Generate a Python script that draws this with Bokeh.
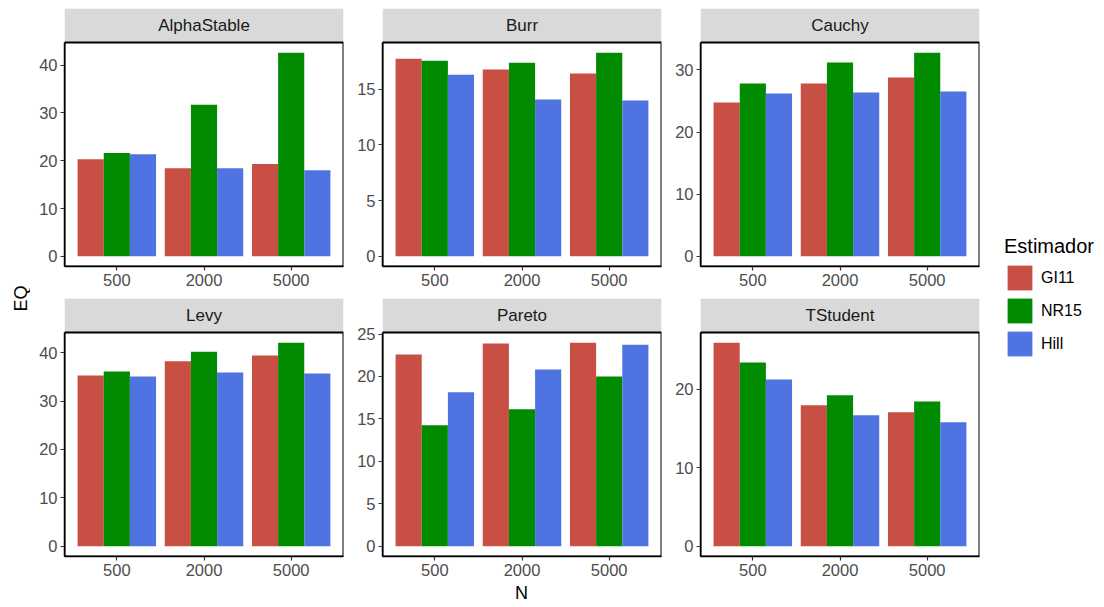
from bokeh.plotting import figure
from bokeh.models import (ColumnDataSource, FactorRange, Range1d, SingleIntervalTicker,
                          Label, Legend, LegendItem, BoxAnnotation)
from bokeh.transform import dodge
from bokeh.layouts import row, column
from bokeh.embed import file_html
from bokeh.resources import INLINE

# ---------------- data ----------------
dists = ["AlphaStable", "Burr", "Cauchy", "Levy", "Pareto", "TStudent"]
sizes = ["500", "2000", "5000"]
estimators = ["GI11", "NR15", "Hill"]

gi11 = [[20.3, 18.4, 19.3], [17.74, 16.76, 16.4], [24.77, 27.8, 28.77],
        [35.3, 38.2, 39.4], [22.58, 23.87, 23.98], [25.97, 17.98, 17.09]]
nr15 = [[21.6, 31.7, 42.6], [17.56, 17.38, 18.28], [27.8, 31.17, 32.77],
        [36.1, 40.2, 42.06], [14.26, 16.14, 20.0], [23.43, 19.25, 18.48]]
hill = [[21.35, 18.4, 18.0], [16.3, 14.08, 13.99], [26.2, 26.37, 26.53],
        [35.1, 35.9, 35.7], [18.13, 20.83, 23.75], [21.27, 16.71, 15.82]]

tick_steps = [10, 5, 10, 10, 5, 10]
colors = ["#C74F43", "#008B00", "#5073E2"]

# ---------------- style ----------------
FONT = "Liberation Sans"
TICK_FS = "16.5px"
STRIP_FS = "17px"
FRAME_W = 279
PANEL_H = 224
STRIP_H = 34
lefts = [34, 34, 35]
rights = [5, 4, 5]
offsets = [-0.3, 0.0, 0.3]


def make_panel(i, top_gap, bottom):
    col = i % 3
    ymax = max(max(gi11[i]), max(nr15[i]), max(hill[i]))
    y0, y1 = -0.05 * ymax, 1.05 * ymax
    per_px = (y1 - y0) / PANEL_H
    y_top = y1 + STRIP_H * per_px
    src = ColumnDataSource(dict(N=sizes, GI11=gi11[i], NR15=nr15[i], Hill=hill[i]))
    p = figure(x_range=FactorRange(factors=sizes, range_padding=0.1,
                                   range_padding_units="absolute"),
               y_range=Range1d(y0, y_top),
               frame_width=FRAME_W, frame_height=PANEL_H + STRIP_H,
               min_border_left=lefts[col], min_border_right=rights[col],
               min_border_top=top_gap, min_border_bottom=bottom,
               output_backend="svg", toolbar_location=None)
    p.outline_line_color = None
    p.background_fill_color = "white"
    p.border_fill_color = "white"
    # facet strip
    p.add_layout(BoxAnnotation(bottom=y1, fill_color="#D9D9D9", fill_alpha=1.0,
                               line_color=None, level="underlay"))
    for est, off, c in zip(estimators, offsets, colors):
        p.vbar(x=dodge("N", off, range=p.x_range), top=est, width=0.3,
               source=src, fill_color=c, line_color=None)
    # panel border
    p.add_layout(BoxAnnotation(bottom=y0, top=y1, fill_color=None, fill_alpha=0,
                               line_color="black", line_alpha=1.0, line_width=2))
    p.add_layout(Label(x=1.5, y=y1 + STRIP_H * per_px / 2, text=dists[i],
                       text_align="center", text_baseline="middle",
                       text_font=FONT, text_font_size=STRIP_FS, text_color="#1A1A1A"))
    p.grid.visible = False
    p.yaxis.ticker = SingleIntervalTicker(interval=tick_steps[i], num_minor_ticks=0)
    p.yaxis.bounds = (y0, y1)
    for ax in (p.xaxis[0], p.yaxis[0]):
        ax.axis_line_color = "black"
        ax.axis_line_width = 1.5
        ax.major_tick_line_color = "#333333"
        ax.major_tick_line_width = 1.2
        ax.major_tick_out = 4
        ax.major_tick_in = 0
        ax.minor_tick_line_color = None
        ax.major_label_text_font = FONT
        ax.major_label_text_font_size = TICK_FS
        ax.major_label_text_color = "#4D4D4D"
        ax.major_label_standoff = 3
    return p


cols_top = [make_panel(i, 8, 32) for i in range(3)]
cols_bot = [make_panel(i, 0, 28) for i in range(3, 6)]

# y-axis title
eq_fig = figure(width=30, height=607, x_range=Range1d(0, 30), y_range=Range1d(0, 607),
                x_axis_type=None, y_axis_type=None, min_border=0,
                output_backend="svg", toolbar_location=None)
eq_fig.grid.visible = False
eq_fig.outline_line_color = None
eq_fig.add_layout(Label(x=20, y=309, text="EQ", angle=90, angle_units="deg",
                        text_align="center", text_baseline="middle",
                        text_font=FONT, text_font_size="18px", text_color="black"))

# x-axis title
n_fig = figure(width=954, height=23, x_range=Range1d(0, 954), y_range=Range1d(0, 23),
               x_axis_type=None, y_axis_type=None, min_border=0,
               output_backend="svg", toolbar_location=None)
n_fig.grid.visible = False
n_fig.outline_line_color = None
n_fig.add_layout(Label(x=491, y=15, text="N", text_align="center", text_baseline="middle",
                       text_font=FONT, text_font_size="18px", text_color="black"))

# legend
leg_fig = figure(width=120, height=607, x_range=FactorRange(factors=sizes),
                 y_range=Range1d(0, 1), x_axis_type=None, y_axis_type=None, min_border=0,
                 output_backend="svg", toolbar_location=None)
leg_fig.grid.visible = False
leg_fig.outline_line_color = None
leg_src = ColumnDataSource(dict(N=sizes, GI11=gi11[0], NR15=nr15[0], Hill=hill[0]))
items = []
for est, off, c in zip(estimators, offsets, colors):
    r = leg_fig.vbar(x=dodge("N", off, range=leg_fig.x_range), top=est, width=0.3,
                     source=leg_src, fill_color=c, line_color=None)
    r.visible = False
    items.append(LegendItem(label=est, renderers=[r]))
legend = Legend(items=items, location=(20, 248), title="Estimador",
                title_text_font=FONT, title_text_font_size="20px",
                title_text_font_style="normal", title_text_color="black",
                title_standoff=4,
                label_text_font=FONT, label_text_font_size="16px", label_text_color="black",
                glyph_width=31, glyph_height=31, spacing=2, padding=0, margin=0,
                label_standoff=6, border_line_color=None, background_fill_alpha=0)
leg_fig.add_layout(legend)

layout = row(eq_fig,
             column(row(*cols_top), row(*cols_bot), n_fig),
             leg_fig)

open("out.html", "w").write(file_html(layout, INLINE, "EQ por estimador"))
